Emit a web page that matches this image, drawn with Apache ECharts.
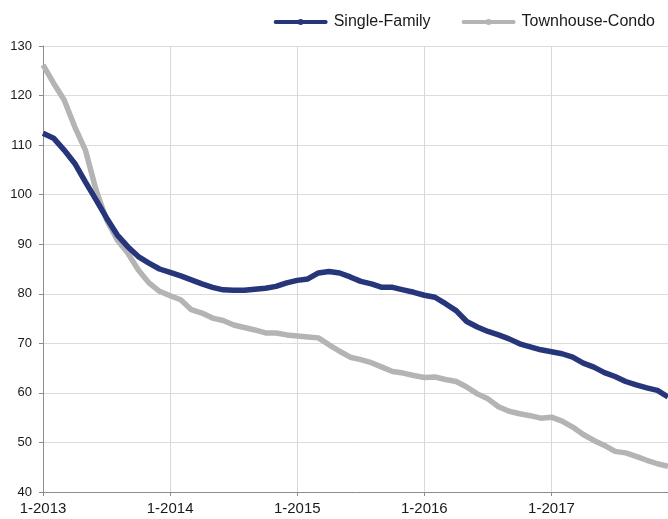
<!DOCTYPE html>
<html>
<head>
<meta charset="utf-8">
<script src="https://cdn.jsdelivr.net/npm/echarts@6/dist/echarts.min.js"></script>
<style>
html,body{margin:0;padding:0;background:#fff;}
#chart{width:668px;height:519px;}
</style>
</head>
<body>
<div id="chart"></div>
<script>
const years = [2013, 2014, 2015, 2016, 2017];
const months = [];
years.forEach(y => { for (let m = 1; m <= 12; m++) months.push(m + '-' + y); });

const singleFamily = [
  112.4, 111.4, 109.0, 106.3, 102.6, 99.0, 95.3, 91.9, 89.5, 87.5, 86.2, 85.0,
  84.3, 83.6, 82.8, 82.0, 81.3, 80.8, 80.7, 80.7, 80.9, 81.1, 81.5, 82.2,
  82.7, 83.0, 84.2, 84.5, 84.2, 83.4, 82.5, 82.0, 81.3, 81.3, 80.8, 80.3,
  79.7, 79.3, 78.0, 76.6, 74.4, 73.3, 72.4, 71.7, 70.9, 69.9, 69.3, 68.7,
  68.3, 67.9, 67.2, 66.0, 65.2, 64.1, 63.3, 62.3, 61.6, 61.0, 60.5, 59.2
];
const townhouseCondo = [
  126.2, 122.5, 119.1, 113.7, 109.0, 101.0, 94.9, 90.9, 88.2, 84.8, 82.2, 80.5,
  79.6, 78.8, 76.8, 76.1, 75.1, 74.6, 73.7, 73.2, 72.7, 72.1, 72.1, 71.7,
  71.5, 71.3, 71.1, 69.7, 68.4, 67.2, 66.7, 66.1, 65.2, 64.3, 64.0, 63.5,
  63.1, 63.2, 62.7, 62.3, 61.2, 59.8, 58.8, 57.2, 56.3, 55.8, 55.4, 54.9,
  55.1, 54.3, 53.1, 51.6, 50.4, 49.4, 48.2, 47.9, 47.2, 46.4, 45.7, 45.2
];
const seriesNames = ['Single-Family', 'Townhouse-Condo'];
const yTicks = { min: 40, max: 130, step: 10 };

const FONT = '"Liberation Sans", Arial, Helvetica, sans-serif';
const isJan = (i) => i % 12 === 0;
const legendIcon = 'path://M3,1 L53,1 A2,2 0 0 1 53,5 L3,5 A2,2 0 0 1 3,1 Z M28,0 A3,3 0 1 1 28,6 A3,3 0 1 1 28,0 Z';

const chart = echarts.init(document.getElementById('chart'), null, { renderer: 'canvas' });
chart.setOption({
  animation: false,
  backgroundColor: '#ffffff',
  textStyle: { fontFamily: FONT },
  legend: {
    data: seriesNames.map(n => ({ name: n, icon: legendIcon })),
    right: 8,
    top: 9,
    itemWidth: 56,
    itemHeight: 6,
    itemGap: 31,
    textStyle: { fontFamily: FONT, fontSize: 16, color: '#1a1a1a' }
  },
  grid: { left: 43, right: 0, top: 46, bottom: 27, containLabel: false },
  xAxis: {
    type: 'category',
    data: months,
    boundaryGap: false,
    axisLine: { show: true, lineStyle: { color: '#8c8c8c', width: 1 } },
    axisTick: { show: true, interval: (i) => isJan(i), length: 4, lineStyle: { color: '#8c8c8c' } },
    axisLabel: { interval: (i) => isJan(i), fontFamily: FONT, fontSize: 15, color: '#1a1a1a', margin: 9 },
    splitLine: { show: true, interval: (i) => isJan(i), lineStyle: { color: '#d9d9d9', width: 1 } }
  },
  yAxis: {
    type: 'value',
    min: yTicks.min,
    max: yTicks.max,
    interval: yTicks.step,
    axisLine: { show: true, lineStyle: { color: '#8c8c8c', width: 1 } },
    axisTick: { show: true, length: 4, lineStyle: { color: '#8c8c8c' } },
    axisLabel: { fontFamily: FONT, fontSize: 13, color: '#1a1a1a', margin: 11 },
    splitLine: { show: true, lineStyle: { color: '#dcdcdc', width: 1 } }
  },
  series: [
    {
      name: seriesNames[0], type: 'line', data: singleFamily,
      symbol: 'circle', symbolSize: 5, showSymbol: false,
      lineStyle: { color: '#27357a', width: 5.5 }, itemStyle: { color: '#27357a' },
      z: 3
    },
    {
      name: seriesNames[1], type: 'line', data: townhouseCondo,
      symbol: 'circle', symbolSize: 5, showSymbol: false,
      lineStyle: { color: '#b4b4b4', width: 5.5 }, itemStyle: { color: '#b4b4b4' },
      z: 2
    }
  ]
});
</script>
</body>
</html>
